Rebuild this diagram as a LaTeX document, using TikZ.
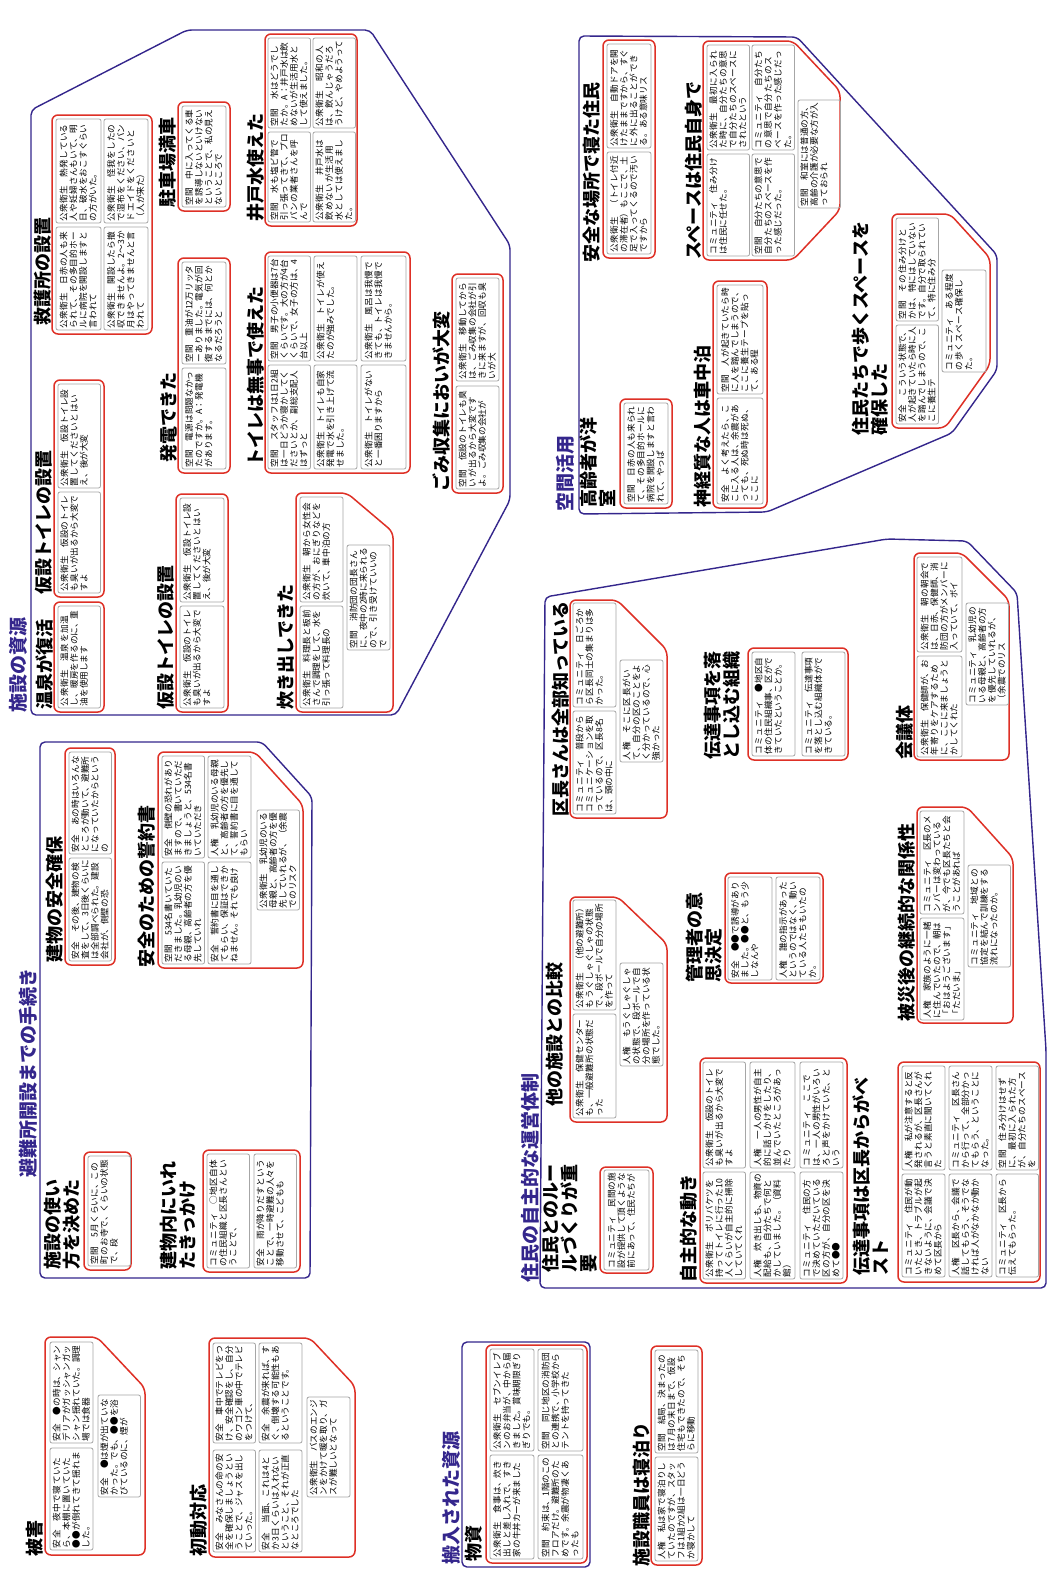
\documentclass[tikz,border=0pt]{standalone}
\usepackage{fontspec}
\setmainfont{Noto Sans CJK JP}
\XeTeXlinebreaklocale "ja"
\XeTeXlinebreakskip=0pt plus 1pt
\definecolor{boxred}{RGB}{222,48,38}
\definecolor{encblue}{RGB}{52,38,140}

\begin{document}
\begin{tikzpicture}[x=1pt, y=-1pt, line join=round, line cap=round,
  encl/.style={draw=encblue, line width=1.4pt, rounded corners=5pt},
  grp/.style={draw=boxred, line width=1.5pt, rounded corners=6pt},
  card/.style={draw=gray!70, line width=0.8pt, rounded corners=2pt, rotate=90, anchor=north west,
    inner sep=2pt, outer sep=0pt, align=left, text height=7.5pt, text depth=31pt,
    font=\fontsize{8.6}{9.8}\selectfont},
  head/.style={rotate=90, anchor=west, inner sep=0pt, font=\fontsize{18}{19}\selectfont\bfseries},
  head2/.style={head, anchor=north west, align=left},
  bighead/.style={head, text=encblue, font=\fontsize{19}{21}\selectfont\bfseries}]

  % 0. Khung trang
  \fill[white] (0,0) rectangle (1049,1574);
  \useasboundingbox (0,0) rectangle (1049,1574);

  % 1. Các vùng lớn (khung xanh)
  \draw[encl] (31,110) -- (187,30) -- (370,30) -- (510,245) -- (510,500) -- (396,715) -- (31,715) -- cycle;
  \draw[encl] (40,742) -- (262,742) -- (312,797) -- (310,1278) -- (40,1278) -- cycle;
  \draw[encl] (579,36) -- (797,37) -- (997,255) -- (997,370) -- (952,433) -- (767,512) -- (579,514) -- cycle;
  \draw[encl] (545,597) -- (887,539) -- (967,541) -- (1017,593) -- (1046,1050) -- (1046,1288) -- (540,1288) -- cycle;
  \draw[encl] (462,1342) rectangle (590,1567);

  \node[bighead] (shisetsu) at (18,713) {施設の資源};
  \node[bighead] (hinanjo) at (28,1178) {避難所開設までの手続き};
  \node[bighead] (kukan) at (565,512) {空間活用};
  \node[bighead] (jumin) at (530,1283) {住民の自主的な運営体制};
  \node[bighead] (hannyu) at (451,1565) {搬入された資源};

  % 2. 被害・初動対応
  \node[head] (higai) at (35,1557) {被害};
  \draw[grp] (45,1337) -- (97,1337) -- (145,1388) -- (145,1555) -- (45,1555) -- cycle;
  \node[card, text width=97, minimum height=43] (gA1) at (50,1443) {安全　●の時は、シャンデリアがガッシャンガッシャン揺れていた。調理場では食器};
  \node[card, text width=98, minimum height=43] (gA2) at (50,1550) {安全　夜中で寝ていたら、本棚に置いていた●●が倒れてきて揺れました。};
  \node[card, text width=98, minimum height=42] (gA3) at (98,1497) {安全　●は煙が出ていなかった。でも、●●を浴びているのに、煙が};

  \node[head] (shodo) at (199,1557) {初動対応};
  \draw[grp] (209,1338) -- (310,1338) -- (355,1386) -- (355,1557) -- (209,1557) -- cycle;
  \node[card, text width=96, minimum height=42] (gB1) at (213,1443) {安全　車中でテレビをつけ、安全確認をし、自分のワゴン車の中でテレビをつけて、};
  \node[card, text width=98, minimum height=42] (gB2) at (213,1552) {安全　みなさんの命の安全を確保しましょうということで、ジャスを出していった。};
  \node[card, text width=96, minimum height=43] (gB3) at (259,1443) {安全　余震が来れば、すぐ、倒壊する可能性もあるということです。};
  \node[card, text width=98, minimum height=43] (gB4) at (259,1552) {安全　当面、これは4とか3日くらいは入れないということ、それが正直なところでした};
  \node[card, text width=96, minimum height=43] (gB5) at (307,1497) {公衆衛生　バスのエンジンをかけて暖を取り、ガスが難しいとなって};

  % 3. 搬入された資源・施設職員
  \node[head] (busshi) at (474,1562) {物資};
  \draw[grp] (486,1345) rectangle (587,1563);
  \node[card, text width=98, minimum height=44] (gC1) at (490,1451) {公衆衛生　セブンイレブンのお弁当が、中から届きました。賞味期限ぎりぎりでも。};
  \node[card, text width=100, minimum height=44] (gC2) at (490,1559) {公衆衛生　食事は、炊き出しと差し入れで、すき家の牛丼カーが来ました};
  \node[card, text width=98, minimum height=45] (gC3) at (538,1451) {空間　同じ地区の消防団との連携で、小学校からテントを持ってきた};
  \node[card, text width=100, minimum height=45] (gC4) at (538,1559) {空間　約束は、1階のこのフロアだけ。避難所のためです。余震が物凄くあったも};

  \node[head] (shokuin) at (642,1567) {施設職員は寝泊り};
  \draw[grp] (651,1346) rectangle (702,1565);
  \node[card, text width=99, minimum height=43] (gD1) at (655,1453) {空間　結局、決まったのは7月の末日まで、仮設住宅もできたので、そちらに移動};
  \node[card, text width=100, minimum height=43] (gD2) at (655,1561) {人権　私は家で寝泊りしていたのですが、スタッフは1組か2組は一日どうか寝かして};

  % 4. 施設の資源
  \node[head] (onsen) at (44,710) {温泉が復活};
  \draw[grp] (54,602) rectangle (104,712);
  \node[card, text width=98, minimum height=42] (gE1) at (58,708) {公衆衛生　温泉を加温し、暖房を作るのに、重油を使用します};

  \node[head] (kasetsuA) at (44,595) {仮設トイレの設置};
  \draw[grp] (54,380) rectangle (104,597);
  \node[card, text width=100, minimum height=42] (gE2) at (58,488) {公衆衛生　仮設トイレ設置してくださいとはいえ、後が大変};
  \node[card, text width=97, minimum height=42] (gE3) at (58,593) {公衆衛生　仮設のトイレも臭いが出るから大変ですよ};

  \node[head] (kyugo) at (43,326) {救護所の設置};
  \draw[grp] (52,115) rectangle (152,334);
  \node[card, text width=100, minimum height=45] (gE4) at (56,223) {公衆衛生　熱発している人や妊婦さんもいて、明日、破水をおこすぐらいの方がいた。};
  \node[card, text width=99, minimum height=45] (gE5) at (56,330) {公衆衛生　日赤の人も来られて、その多目的ホールに病院を開設しますと言われて};
  \node[card, text width=100, minimum height=44] (gE6) at (104,223) {公衆衛生　怪我をしたので湿布をください、バンドエイドをくださいと（人が来た）};
  \node[card, text width=99, minimum height=44] (gE7) at (104,330) {公衆衛生　開設したら撤収できませんよ。2〜3か月はやってきませんと言われて};

  \node[head] (chusha) at (168,208) {駐車場満車};
  \draw[grp] (178,102) rectangle (230,211);
  \node[card, text width=97, minimum height=44] (gE8) at (182,207) {空間　中に入ってくる車を誘導しないといけないということで、私の見えないところで};

  \node[head] (hatsuden) at (169,463) {発電できた};
  \draw[grp] (178,258) rectangle (230,473);
  \node[card, text width=98, minimum height=44] (gE9) at (182,364) {空間　重油が12万リッターありました。電気が回復するまでには、何とかなるだろうと};
  \node[card, text width=97, minimum height=44] (gE10) at (182,469) {空間　電源は問題なかったのですか。A：発電機があります。};

  \node[head] (kasetsuB) at (166,710) {仮設トイレの設置};
  \draw[grp] (176,494) rectangle (228,712);
  \node[card, text width=100, minimum height=44] (gE11) at (180,602) {公衆衛生　仮設トイレ設置してくださいとはいえ、後が大変};
  \node[card, text width=98, minimum height=44] (gE12) at (180,708) {公衆衛生　仮設のトイレも臭いが出るから大変ですよ};

  \node[head] (ido) at (256,222) {井戸水使えた};
  \draw[grp] (265,34) rectangle (357,226);
  \node[card, text width=86, minimum height=41] (gE13) at (268,128) {空間　水はどうでしたか。A：井戸水は飲めないが生活用水として使えました。};
  \node[card, text width=86, minimum height=41] (gE14) at (268,222) {空間　水も塩ビ管で引っ張ってきて、プロパンの業者さんを呼んで};
  \node[card, text width=86, minimum height=41] (gE15) at (313,128) {公衆衛生　昭和の人は、飲んじゃうだろうけど、やめようって};
  \node[card, text width=86, minimum height=41] (gE16) at (313,222) {公衆衛生　井戸水は飲めないが生活用水としては使えました。};

  \node[head] (toire) at (256,467) {トイレは無事で使えた};
  \draw[grp] (265,252) rectangle (410,473);
  \node[card, text width=101, minimum height=42] (gE17) at (268,361) {空間　男子の小便器は7台くらいです。大の方が4台くらいで、女子の方は、4台以上};
  \node[card, text width=100, minimum height=42] (gE18) at (268,469) {空間　スタッフは1日2組は一日どうか寝かしてくださいとか、副総支配人はずっと};
  \node[card, text width=101, minimum height=43] (gE19) at (314,361) {公衆衛生　トイレが使えたのが強みでした。};
  \node[card, text width=100, minimum height=43] (gE20) at (314,469) {公衆衛生　トイレも自家発電で水を引き上げて流せました。};
  \node[card, text width=101, minimum height=45] (gE21) at (361,361) {公衆衛生　風呂は我慢できても、トイレは我慢できませんから。};
  \node[card, text width=100, minimum height=45] (gE22) at (361,469) {公衆衛生　トイレがないと一番困りますから};

  \node[head] (takidashi) at (286,710) {炊き出しできた};
  \draw[grp] (296,493) -- (347,493) -- (393,532) -- (393,712) -- (296,712) -- cycle;
  \node[card, text width=101, minimum height=43] (gE23) at (300,602) {公衆衛生　朝から女性会の方が、おにぎりなどを炊いて、車中泊の方};
  \node[card, text width=98, minimum height=43] (gE24) at (300,708) {公衆衛生　料理長と板前さんで調理をして、水を引っ張って料理長の};
  \node[card, text width=101, minimum height=43] (gE25) at (347,650) {空間　消防団の団長さんに、夜中の2時に来られるので、引き受けていいので};

  \node[head] (gomi) at (441,492) {ごみ収集においが大変};
  \draw[grp] (452,274) rectangle (503,493);
  \node[card, text width=99, minimum height=43] (gE26) at (456,381) {公衆衛生　移動してからは、ごみ収集の会社が引きに来ますが、回収も臭いが大};
  \node[card, text width=99, minimum height=43] (gE27) at (456,489) {空間　仮設のトイレも臭いが出るから大変ですよ。ごみ収集の会社が};

  % 5. 避難所開設までの手続き
  \node[head] (tatemono) at (55,963) {建物の安全確保};
  \draw[grp] (65,748) rectangle (115,965);
  \node[card, text width=98, minimum height=42] (gF1) at (69,854) {安全　あの時はいろんなところが動いて、避難所になっていたからというの};
  \node[card, text width=99, minimum height=42] (gF2) at (69,961) {安全　その後、建物の検査をして、3日後くらいには全部調べられた。建設会社が、側壁の恐};

  \node[head] (seiyaku) at (147,968) {安全のための誓約書};
  \draw[grp] (158,752) -- (255,752) -- (303,805) -- (303,968) -- (158,968) -- cycle;
  \node[card, text width=98, minimum height=42] (gF3) at (162,858) {安全　側壁の恐れがありますので、書いていただきましょうと、534名書いていただき};
  \node[card, text width=98, minimum height=42] (gF4) at (162,964) {空間　534名書いていただきました。乳幼児のいる母親、高齢者の方を優先していれ};
  \node[card, text width=98, minimum height=43] (gF5) at (208,858) {人権　乳幼児のいる母親と、高齢者の方を優先して、誓約書に目を通してもらい};
  \node[card, text width=98, minimum height=43] (gF6) at (208,964) {安全　誓約書に目を通してもらい、保証はできかねません。それでも良け};
  \node[card, text width=96, minimum height=42] (gF7) at (257,910) {公衆衛生　乳幼児のいる母親と、高齢者の方を優先していれるが、（余震でのリスク};

  \node[head2] (tsukaikata) at (44,1270) {施設の使い\\方を決めた};
  \draw[grp] (84,1152) rectangle (131,1270);
  \node[card, text width=106, minimum height=39] (gF8) at (88,1266) {空間　5月くらいに、この町のお寺で、くらいの状態で、段};

  \node[head2] (kikkake) at (160,1270) {建物内にいれ\\たきっかけ};
  \draw[grp] (203,1150) rectangle (300,1272);
  \node[card, text width=110, minimum height=42] (gF9) at (207,1268) {コミュニティ　○地区自体の住民組織と区長さんということで、};
  \node[card, text width=110, minimum height=42] (gF10) at (254,1268) {安全　雨が降りだすということで、一時避難の人々を移動させて、こどもも};

  % 6. 空間活用
  \node[head] (anzen) at (592,263) {安全な場所で寝た住民};
  \draw[grp] (603,40) rectangle (655,258);
  \node[card, text width=100, minimum height=44] (gG1) at (607,148) {公衆衛生　自動ドアを開けたままですから、すぐに外に出ることができる。ある意味リス};
  \node[card, text width=98, minimum height=44] (gG2) at (607,254) {公衆衛生　（トイレ付近の滞在者）もここで、土足で入ってくるので汚いですから};

  \node[head] (space) at (694,260) {スペースは住民自身で};
  \draw[grp] (703,41) -- (793,41) -- (840,91) -- (840,210) -- (793,260) -- (703,260) -- cycle;
  \node[card, text width=101, minimum height=41] (gG3) at (707,150) {公衆衛生　最初に入られた時に、自分たちの意思で自分たちのスペースにされたという};
  \node[card, text width=98, minimum height=41] (gG4) at (707,256) {コミュニティ　住み分けは住民に任せた。};
  \node[card, text width=101, minimum height=42] (gG5) at (752,150) {コミュニティ　自分たちの意思で自分たちのスペースを作った感じだった。};
  \node[card, text width=98, minimum height=42] (gG6) at (752,256) {空間　自分たちの意思で自分たちのスペースを作った感じだった。};
  \node[card, text width=104, minimum height=39] (gG7) at (798,208) {空間　和室には普通の方、高齢の介護が必要な方が入っておられ};

  \node[head2] (koreisha) at (580,508) {高齢者が洋\\室};
  \draw[grp] (620,399) rectangle (672,508);
  \node[card, text width=97, minimum height=44] (gG8) at (624,504) {空間　日赤の人も来られて、その多目的ホールに病院を開設しますと言われて、やっぱ};

  \node[head] (shinkei) at (703,508) {神経質な人は車中泊};
  \draw[grp] (713,281) rectangle (767,508);
  \node[card, text width=105, minimum height=46] (gG9) at (717,394) {空間　人が起きていたら時に人を踏んでしまうので、ここに養生テープを貼って、ある程};
  \node[card, text width=102, minimum height=46] (gG10) at (717,504) {安全　よく考えたら、ここに入る人は、余震があっても、死ぬ時は死ぬ、ここに};

  \node[head2] (aruku) at (852,436) {住民たちで歩くスペースを\\確保した};
  \draw[grp] (892,214) -- (950,214) -- (990,258) -- (990,365) -- (945,428) -- (892,428) -- cycle;
  \node[card, text width=99, minimum height=42] (gG11) at (896,321) {空間　その住み分けとかは、特にはしていないです。自分で取られていて、特に住み分};
  \node[card, text width=95, minimum height=42] (gG12) at (896,424) {安全　こういう状態で、人が起きていたら時に人を踏んでしまうので、ここに養生テ};
  \node[card, text width=98, minimum height=44] (gG13) at (942,372) {コミュニティ　ある程度の歩くスペース確保した。};

  % 7. 住民の自主的な運営体制
  \node[head] (kucho) at (561,817) {区長さんは全部知っている};
  \draw[grp] (570,600) -- (617,600) -- (667,650) -- (667,818) -- (570,818) -- cycle;
  \node[card, text width=100, minimum height=43] (gH1) at (573,707) {コミュニティ　日ごろから区長同士の集まりは多かった。};
  \node[card, text width=99, minimum height=43] (gH2) at (573,814) {コミュニティ　普段からコミュニケーションを取っているので、区長8名は、頭の中に};
  \node[card, text width=98, minimum height=43] (gH3) at (620,762) {人権　そこに区長がいて、自分の区のことをよく分かっているので、心強かった};

  \node[head2] (otoshikomu) at (704,760) {伝達事項を落\\とし込む組織};
  \draw[grp] (748,648) rectangle (848,760);
  \node[card, text width=100, minimum height=43] (gH4) at (752,756) {コミュニティ　●地区自体の住民組織事、区ができていたということか。};
  \node[card, text width=100, minimum height=43] (gH5) at (802,756) {コミュニティ　伝達事項を落とし込む組織体ができている。};

  \node[head] (kaigi) at (905,760) {会議体};
  \draw[grp] (914,553) -- (962,553) -- (1009,600) -- (1009,760) -- (914,760) -- cycle;
  \node[card, text width=91, minimum height=45] (gH6) at (917,652) {公衆衛生　朝の朝会では、日赤、保健師、消防団の方がメンバーに入っていて、ボイ};
  \node[card, text width=97, minimum height=45] (gH7) at (917,757) {公衆衛生　保健師が、お年寄りをケアするために、ここに来ましょうとかしてくれた};
  \node[card, text width=98, minimum height=40] (gH8) at (966,705) {コミュニティ　乳幼児のいる母親と、高齢者の方を優先していれるが、（余震でのリス};

  \node[head] (hisaigo) at (907,1022) {被災後の継続的な関係性};
  \draw[grp] (917,807) -- (967,807) -- (1013,858) -- (1013,1023) -- (917,1023) -- cycle;
  \node[card, text width=99, minimum height=44] (gH9) at (920,914) {コミュニティ　区長のメンバーは変わっているが、今でも区長たちと会うことがあれば};
  \node[card, text width=98, minimum height=44] (gH10) at (920,1020) {人権　家族のように一緒に住んでいたので、朝は「おはようございます」「ただいま」};
  \node[card, text width=98, minimum height=42] (gH11) at (968,967) {コミュニティ　地域との協定を結んで訓練をする流れになったのか。};

  \node[head2] (kanrisha) at (686,983) {管理者の意\\思決定};
  \draw[grp] (725,873) rectangle (823,983);
  \node[card, text width=99, minimum height=44] (gH12) at (728,980) {安全　●●で誘導がありました。●●と、もう少しなんや};
  \node[card, text width=99, minimum height=44] (gH13) at (776,980) {人権　誰の指示があったというのではなく、動いている人たちもいたのか。};

  \node[head] (hikaku) at (555,1107) {他の施設との比較};
  \draw[grp] (570,897) -- (618,897) -- (667,944) -- (667,1122) -- (570,1122) -- cycle;
  \node[card, text width=106, minimum height=43] (gH14) at (573,1010) {公衆衛生　（他の避難所）もうぐしゃぐしゃの状態で、段ボールで自分の場所を作って};
  \node[card, text width=100, minimum height=43] (gH15) at (573,1118) {公衆衛生　保健センターも、一般避難所の状態だった};
  \node[card, text width=99, minimum height=43] (gH16) at (620,1066) {人権　もうぐしゃぐしゃの状態で、段ボールで自分の場所を作っている状態でした。};

  \node[head2] (rule) at (542,1273) {住民とのルー\\ルづくりが重\\要};
  \draw[grp] (600,1167) rectangle (653,1273);
  \node[card, text width=96, minimum height=45] (gH17) at (604,1270) {コミュニティ　民間の施設が提供して頂くような前にあって、住民たちが};

  \node[head] (jishu) at (689,1283) {自主的な動き};
  \draw[grp] (700,1058) rectangle (847,1283);
  \node[card, text width=102, minimum height=42] (gH18) at (703,1168) {公衆衛生　仮設のトイレも臭いが出るから大変ですよ};
  \node[card, text width=103, minimum height=42] (gH19) at (703,1279) {公衆衛生　ポリバケツを持ってトイレに行った10人くらいが自主的に掃除していてくれ};
  \node[card, text width=102, minimum height=45] (gH20) at (750,1168) {人権　一人の男性が自主的に話しかけをしたり、並んでいたところがあったり};
  \node[card, text width=103, minimum height=45] (gH21) at (750,1279) {人権　炊き出しも、物資の配給も、自分たちで何とかしていました。（資料館）};
  \node[card, text width=102, minimum height=43] (gH22) at (800,1168) {コミュニティ　ここでは、一人の男性がいろいろと声をかけていた、という};
  \node[card, text width=103, minimum height=43] (gH23) at (800,1279) {コミュニティ　住民の方で決めていただいている区の方が、自分の区を決めて●●};

  \node[head2] (best) at (853,1276) {伝達事項は区長からがベ\\スト};
  \draw[grp] (898,1062) rectangle (1040,1282);
  \node[card, text width=100, minimum height=43] (gH24) at (902,1170) {人権　私が注意すると反発されるが、区長さんが言うと素直に聞いてくれた};
  \node[card, text width=99, minimum height=43] (gH25) at (902,1277) {コミュニティ　住民が動いたとき、トラブルが起きないように、会議で決めて区長から};
  \node[card, text width=100, minimum height=43] (gH26) at (949,1170) {コミュニティ　区長さんから行って、全部分かってもらう、ということになった。};
  \node[card, text width=99, minimum height=43] (gH27) at (949,1277) {人権　区長から、会議で話してもらう、そうでなければ人がなかなか動かない};
  \node[card, text width=100, minimum height=41] (gH28) at (996,1170) {空間　住み分けはせずに、最初に入られた方が、自分たちのスペースを};
  \node[card, text width=99, minimum height=41] (gH29) at (996,1277) {コミュニティ　区長から伝えてもらった。};
\end{tikzpicture}
\end{document}
